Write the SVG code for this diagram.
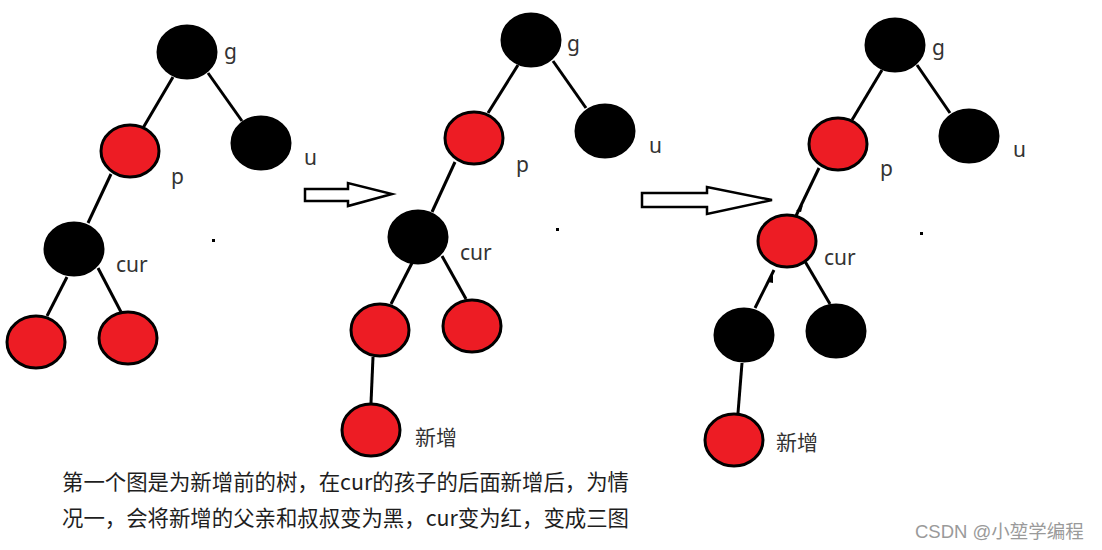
<svg xmlns="http://www.w3.org/2000/svg" width="1102" height="550" viewBox="0 0 1102 550">
<style>
.b{fill:#000;stroke:#000;stroke-width:3}
.r{fill:#ED1C24;stroke:#000;stroke-width:3}
.e{stroke:#000;stroke-width:3;fill:none}
.lb{font-family:"Noto Sans","Noto Sans CJK SC",sans-serif;font-size:21px;fill:#333}
.cap{font-family:"Noto Sans CJK SC","Noto Sans",sans-serif;font-size:21.4px;fill:#1e1e1e}
.wm{font-family:"Liberation Sans","Noto Sans CJK SC",sans-serif;font-size:18.5px;fill:#9a9a9a}
.ar{fill:#fff;stroke:#000;stroke-width:2.5;stroke-linejoin:miter}
.dot{fill:#000}
</style>
<rect width="1102" height="550" fill="#fff"/>
<g id="connectors">
  <line class="e" x1="173" y1="77" x2="143" y2="128"/>
  <line class="e" x1="208" y1="73" x2="242" y2="121"/>
  <line class="e" x1="111" y1="174" x2="88" y2="223"/>
  <line class="e" x1="67" y1="277" x2="47" y2="316"/>
  <line class="e" x1="98" y1="268" x2="121" y2="312"/>

  <line class="e" x1="518" y1="65" x2="488" y2="113"/>
  <line class="e" x1="553" y1="61" x2="586" y2="108"/>
  <line class="e" x1="455" y1="162" x2="432" y2="212"/>
  <line class="e" x1="412" y1="263" x2="391" y2="304"/>
  <line class="e" x1="442" y1="256" x2="466" y2="299"/>
  <line class="e" x1="373" y1="357" x2="371" y2="403"/>

  <line class="e" x1="882" y1="70" x2="852" y2="120"/>
  <line class="e" x1="917" y1="65" x2="950" y2="113"/>
  <line class="e" x1="819" y1="168" x2="794" y2="220"/>
  <polygon class="dot" points="796,211 803,205 801,212"/>
  <polygon class="dot" points="792,220 798,214 797,221"/>
  <line class="e" x1="774" y1="270" x2="755" y2="308"/>
  <polygon class="dot" points="768,282 773,274 773,283"/>
  <line class="e" x1="803" y1="258" x2="830" y2="304"/>
  <line class="e" x1="742" y1="363" x2="738" y2="413"/>
</g>
<g id="arrow1"><polygon class="ar" points="305,189 348,189 348,183 392,194 348,206 348,201 305,201"/></g>
<g id="arrow2"><polygon class="ar" points="642,193 707,193 707,187 772,200 707,214 707,207 642,207"/></g>

<g id="t1-g"><ellipse class="b" cx="187" cy="52" rx="29" ry="26"/><text class="lb" x="224" y="59">g</text></g>
<g id="t1-u"><ellipse class="b" cx="261" cy="143" rx="29" ry="26"/><text class="lb" x="304" y="165">u</text></g>
<g id="t1-p"><ellipse class="r" cx="130" cy="151" rx="29" ry="26"/><text class="lb" x="171" y="184">p</text></g>
<g id="t1-cur"><ellipse class="b" cx="74" cy="249" rx="29" ry="26"/><text class="lb" x="116" y="272">cur</text></g>
<g id="t1-l"><ellipse class="r" cx="36" cy="342" rx="29" ry="26"/></g>
<g id="t1-r"><ellipse class="r" cx="128" cy="338" rx="29" ry="26"/></g>
<rect class="dot" x="212" y="239" width="3" height="3"/>

<g id="t2-g"><ellipse class="b" cx="531" cy="40" rx="29" ry="26"/><text class="lb" x="567" y="51">g</text></g>
<g id="t2-u"><ellipse class="b" cx="605" cy="131" rx="29" ry="26"/><text class="lb" x="649" y="153">u</text></g>
<g id="t2-p"><ellipse class="r" cx="474" cy="138" rx="29" ry="26"/><text class="lb" x="516" y="172">p</text></g>
<g id="t2-cur"><ellipse class="b" cx="418" cy="237" rx="29" ry="26"/><text class="lb" x="460" y="260">cur</text></g>
<g id="t2-l"><ellipse class="r" cx="380" cy="330" rx="29" ry="26"/></g>
<g id="t2-r"><ellipse class="r" cx="472" cy="326" rx="29" ry="26"/></g>
<g id="t2-new"><ellipse class="r" cx="371" cy="430" rx="29" ry="26"/><text class="lb" x="415" y="445">新增</text></g>
<rect class="dot" x="556" y="228" width="3" height="3"/>

<g id="t3-g"><ellipse class="b" cx="895" cy="45" rx="29" ry="26"/><text class="lb" x="932" y="55">g</text></g>
<g id="t3-u"><ellipse class="b" cx="969" cy="136" rx="29" ry="26"/><text class="lb" x="1013" y="157">u</text></g>
<g id="t3-p"><ellipse class="r" cx="838" cy="144" rx="29" ry="26"/><text class="lb" x="880" y="176">p</text></g>
<g id="t3-cur"><ellipse class="r" cx="787" cy="241" rx="29" ry="26"/><text class="lb" x="824" y="265">cur</text></g>
<g id="t3-l"><ellipse class="b" cx="744" cy="335" rx="29" ry="26"/></g>
<g id="t3-r"><ellipse class="b" cx="836" cy="331" rx="29" ry="26"/></g>
<g id="t3-new"><ellipse class="r" cx="734" cy="440" rx="29" ry="26"/><text class="lb" x="776" y="450">新增</text></g>
<rect class="dot" x="920" y="232" width="3" height="3"/>

<g id="caption">
<text class="cap" x="62" y="490">第一个图是为新增前的树，在cur的孩子的后面新增后，为情</text>
<text class="cap" x="62" y="526">况一，会将新增的父亲和叔叔变为黑，cur变为红，变成三图</text>
</g>
<text class="wm" x="915" y="538">CSDN @小堃学编程</text>
</svg>
